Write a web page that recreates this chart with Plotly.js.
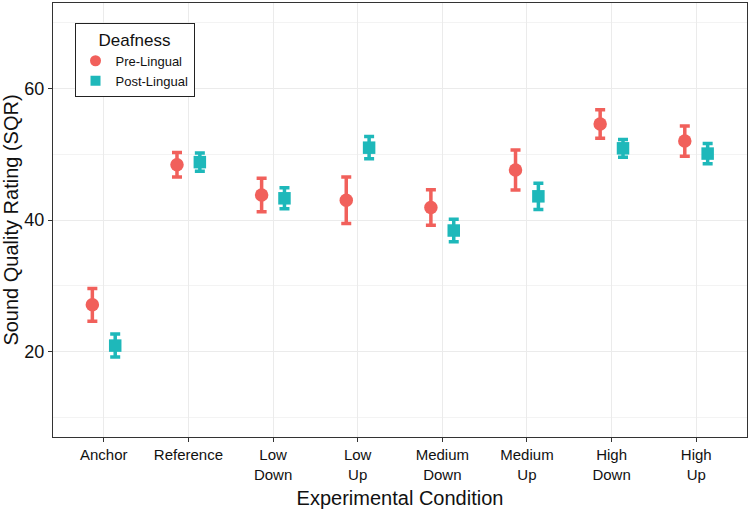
<!DOCTYPE html>
<html>
<head>
<meta charset="utf-8">
<script src="https://cdn.plot.ly/plotly-3.0.1.min.js"></script>
<style>html,body{margin:0;padding:0;background:#fff;}#chart{width:750px;height:515px;}</style>
</head>
<body>
<div id="chart"></div>
<script>
// Data
var categories = ["Anchor", "Reference", "Low<br>Down", "Low<br>Up", "Medium<br>Down", "Medium<br>Up", "High<br>Down", "High<br>Up"];
var groupNames = ["Pre-Lingual", "Post-Lingual"];
var preLingualMean = [27.1, 48.4, 43.8, 43.0, 41.9, 47.6, 54.6, 52.0];
var preLingualErr  = [2.5, 1.85, 2.55, 3.55, 2.7, 3.05, 2.15, 2.3];
var postLingualMean = [20.9, 48.8, 43.3, 51.0, 38.4, 43.6, 50.9, 50.1];
var postLingualErr  = [1.75, 1.4, 1.6, 1.7, 1.7, 2.0, 1.35, 1.55];
var yTickVals = [20, 40, 60];
var yMinorVals = [10, 30, 50, 70];

// Styling / layout
var dodge = 0.135;
var redColor = "#F1605B";
var tealColor = "#1EB8BA";
var idx = categories.map(function (c, i) { return i; });

var traces = [
  {
    type: "scatter", mode: "markers", name: groupNames[0], showlegend: false,
    x: idx.map(function (i) { return i - dodge; }),
    y: preLingualMean,
    marker: {symbol: "circle", size: 13.5, color: redColor},
    error_y: {type: "data", array: preLingualErr, visible: true, color: redColor, thickness: 3.5, width: 5}
  },
  {
    type: "scatter", mode: "markers", name: groupNames[1], showlegend: false,
    x: idx.map(function (i) { return i + dodge; }),
    y: postLingualMean,
    marker: {symbol: "square", size: 12.5, color: tealColor},
    error_y: {type: "data", array: postLingualErr, visible: true, color: tealColor, thickness: 3.5, width: 5}
  },
  // legend keys (no data)
  {type: "scatter", mode: "markers", name: groupNames[0], x: [null], y: [null],
   marker: {symbol: "circle", size: 11, color: redColor}, showlegend: true},
  {type: "scatter", mode: "markers", name: groupNames[1], x: [null], y: [null],
   marker: {symbol: "square", size: 10, color: tealColor}, showlegend: true}
];

var layout = {
  width: 750, height: 515,
  margin: {l: 53, r: 3, t: 3, b: 78},
  paper_bgcolor: "#ffffff", plot_bgcolor: "#ffffff",
  font: {family: "Liberation Sans, Arial, sans-serif", color: "#111"},
  showlegend: true,
  hovermode: false,
  legend: {
    x: 0.031, y: 0.9546, xanchor: "left", yanchor: "top",
    bgcolor: "#ffffff", bordercolor: "#222", borderwidth: 1,
    font: {size: 13, color: "#111"},
    title: {text: "Deafness", side: "top center", font: {size: 17, color: "#111"}},
    itemwidth: 30, tracegroupgap: 0
  },
  xaxis: {
    type: "linear", range: [-0.6, 7.6],
    tickmode: "array", tickvals: idx, ticktext: categories,
    ticks: "outside", ticklen: 4, tickcolor: "#333", tickwidth: 1,
    tickfont: {size: 15, color: "#111"},
    showgrid: true, gridcolor: "#EBEBEB", gridwidth: 1,
    showline: true, mirror: true, linecolor: "#333", linewidth: 1,
    zeroline: false,
    title: {text: "Experimental Condition", font: {size: 20, color: "#111"}, standoff: 9}
  },
  yaxis: {
    range: [7, 73],
    tickmode: "array", tickvals: yTickVals,
    ticks: "outside", ticklen: 4, tickcolor: "#333", tickwidth: 1,
    tickfont: {size: 18, color: "#111"},
    showgrid: true, gridcolor: "#EBEBEB", gridwidth: 1,
    minor: {tickmode: "array", tickvals: yMinorVals, showgrid: true, gridcolor: "#F3F3F3", gridwidth: 1, ticks: ""},
    showline: true, mirror: true, linecolor: "#333", linewidth: 1,
    zeroline: false,
    title: {text: "Sound Quality Rating (SQR)", font: {size: 20, color: "#111"}, standoff: 5}
  }
};

Plotly.newPlot("chart", traces, layout, {displayModeBar: false, staticPlot: true});
</script>
</body>
</html>
